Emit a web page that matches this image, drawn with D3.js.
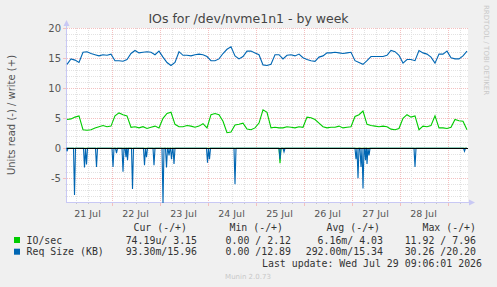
<!DOCTYPE html>
<html>
  <head>
    <meta charset="UTF-8" />
    <title>IOs for /dev/nvme1n1 - by week</title>
    <style>
      body { margin: 0; background: #f0f0f0; }
      text { font-family: "DejaVu Sans", sans-serif; }
      .mono { font-family: "DejaVu Sans Mono", monospace; white-space: pre; }
    </style>
  </head>
  <body>
    <script src="https://d3js.org/d3.v7.min.js"></script>
    <script>
      // write (+) series, one value every 2 hours starting Jul 21 01:45
      const writeReqSize = [
        14.0, 14.9, 14.7, 14.3, 16.0, 16.1, 15.8, 15.6, 15.4, 15.6, 15.5, 15.7,
        14.6, 14.6, 14.5, 14.8, 15.8, 16.3, 15.9, 16.0, 16.1, 16.0, 15.6, 16.2,
        15.2, 14.3, 13.8, 14.3, 16.1, 15.5, 15.5, 15.4, 15.6, 15.7, 15.6, 15.3,
        14.6, 14.6, 14.9, 15.8, 16.5, 16.9, 15.4, 14.9, 15.3, 16.2, 16.2, 15.9,
        15.6, 13.9, 13.8, 14.0, 15.6, 15.6, 14.9, 15.5, 15.6, 15.4, 15.7, 15.1,
        14.8, 14.6, 14.5, 15.2, 15.4, 15.9, 15.9, 16.0, 15.9, 15.8, 15.9, 16.0,
        14.6, 14.3, 14.0, 14.6, 15.3, 15.3, 15.3, 15.3, 15.5, 16.3, 16.1, 15.5,
        14.2, 14.8, 14.8, 14.6, 16.3, 15.9, 15.7, 15.2, 14.2, 15.7, 15.7, 16.2,
        15.1, 14.9, 14.9, 15.4, 16.2
      ];
      const writeIOs = [
        4.8, 4.9, 5.2, 5.4, 3.1, 3.0, 3.1, 3.4, 3.6, 3.8, 3.6, 3.7,
        5.4, 5.9, 5.6, 5.4, 3.5, 3.6, 3.4, 3.6, 3.3, 3.5, 3.7, 3.4,
        5.0, 5.8, 6.0, 4.0, 3.6, 3.6, 3.8, 3.7, 3.5, 3.7, 4.1, 3.4,
        5.6, 5.8, 5.6, 4.5, 2.6, 2.7, 3.9, 4.0, 4.2, 3.2, 3.1, 3.4,
        4.2, 6.4, 6.0, 3.4, 3.5, 3.4, 3.4, 3.6, 3.5, 3.4, 3.6, 3.5,
        5.2, 5.1, 4.8, 4.2, 3.6, 3.4, 3.5, 3.5, 3.7, 3.4, 3.5, 3.6,
        5.3, 5.6, 6.2, 4.0, 3.8, 3.7, 3.6, 3.7, 3.6, 3.2, 3.1, 3.3,
        5.0, 5.6, 5.2, 5.4, 3.1, 3.7, 3.6, 3.8, 5.4, 3.4, 3.4, 3.3,
        3.5, 4.8, 4.6, 4.5, 3.1
      ];

      // read (-) series: zero except for short spikes
      const readSizeTimes = [
        "2026-07-21 01:45", "2026-07-21 05:30", "2026-07-21 10:30", "2026-07-21 11:30",
        "2026-07-21 16:30", "2026-07-22 00:45", "2026-07-22 02:30", "2026-07-22 05:45",
        "2026-07-22 07:15", "2026-07-22 08:00", "2026-07-22 10:30", "2026-07-22 16:30",
        "2026-07-22 17:30", "2026-07-22 21:15", "2026-07-23 01:45", "2026-07-23 03:30",
        "2026-07-23 04:45", "2026-07-23 06:00", "2026-07-23 07:15", "2026-07-24 00:00",
        "2026-07-24 01:00", "2026-07-24 13:45", "2026-07-25 12:15", "2026-07-25 14:15",
        "2026-07-27 02:15", "2026-07-27 03:15", "2026-07-27 04:45", "2026-07-27 05:45",
        "2026-07-27 07:00", "2026-07-27 07:45", "2026-07-27 08:45", "2026-07-28 07:45",
        "2026-07-29 08:30"
      ];
      const readSizeValues = [
        -0.5, -7.8, -3.2, -2.7, -3.1, -3.1, -0.8, -3.9, -1.5, -2.0, -6.8, -2.8,
        -1.5, -2.8, -9.1, -3.2, -1.2, -1.8, -2.6, -2.4, -1.8, -6.0, -1.8, -0.6,
        -1.8, -5.0, -3.1, -6.7, -2.0, -2.6, -1.2, -3.1, -0.5
      ];
      const readIOTimes = ["2026-07-25 12:15"];
      const readIOValues = [-2.5];

      const yTicks = [20, 15, 10, 5, 0, -5];
      const dayLabels = ["21 Jul", "22 Jul", "23 Jul", "24 Jul", "25 Jul", "26 Jul", "27 Jul", "28 Jul"];

      const legendRows = [
        { name: "IO/sec", color: "#00cc00", cur: "74.19u/ 3.15", min: "0.00 / 2.12", avg: "6.16m/ 4.03", max: "11.92 / 7.96" },
        { name: "Req Size (KB)", color: "#0066b3", cur: "93.30m/15.96", min: "0.00 /12.89", avg: "292.00m/15.34", max: "30.26 /20.20" }
      ];

      const parse = d3.timeParse("%Y-%m-%d %H:%M");
      const start = parse("2026-07-21 01:45");
      const end = d3.timeHour.offset(start, 200);

      const W = 497, H = 287;
      const svg = d3.select("body").append("svg").attr("width", W).attr("height", H);
      svg.append("rect").attr("width", W).attr("height", H).attr("fill", "#f0f0f0");

      const x = d3.scaleTime().domain([start, end]).range([67, 467]);
      const y = d3.scaleLinear().domain([-8.95, 20]).range([202, 28.3]);
      const px = (v) => Math.round(v) + 0.5;

      svg.append("rect").attr("x", 67).attr("y", 28).attr("width", 401).attr("height", 174).attr("fill", "#fff");

      // grid
      const major = "#f4c0c0", minor = "#e2e2e2";
      const grid = svg.append("g");
      const minorY = d3.range(-8, 21);
      grid.selectAll(".hy").data(minorY).join("line")
        .attr("x1", 67).attr("x2", 468)
        .attr("y1", (d) => px(y(d))).attr("y2", (d) => px(y(d)))
        .attr("stroke", (d) => (d % 5 === 0 ? major : minor))
        .attr("stroke-dasharray", "1,1");
      const hours6 = d3.timeHour.every(6).range(start, end);
      grid.selectAll(".vx").data(hours6).join("line")
        .attr("x1", (d) => px(x(d))).attr("x2", (d) => px(x(d)))
        .attr("y1", 28).attr("y2", 202)
        .attr("stroke", (d) => (d.getHours() === 0 ? major : minor))
        .attr("stroke-dasharray", "1,1");
      // x ticks under the axis
      grid.selectAll(".tx").data(hours6).join("line")
        .attr("x1", (d) => px(x(d))).attr("x2", (d) => px(x(d)))
        .attr("y1", 202).attr("y2", (d) => (d.getHours() === 0 ? 206 : 204))
        .attr("stroke", (d) => (d.getHours() === 0 ? major : "#c8c8c8"));
      // y ticks left of the axis
      grid.selectAll(".ty").data(minorY).join("line")
        .attr("x1", (d) => (d % 5 === 0 ? 63 : 65)).attr("x2", 67)
        .attr("y1", (d) => px(y(d))).attr("y2", (d) => px(y(d)))
        .attr("stroke", (d) => (d % 5 === 0 ? major : minor));

      // axes lines with arrows
      const axisColor = "#c8c8f4";
      svg.append("line").attr("x1", 66.5).attr("x2", 66.5).attr("y1", 25).attr("y2", 203).attr("stroke", axisColor);
      svg.append("line").attr("x1", 66).attr("x2", 470).attr("y1", 202.5).attr("y2", 202.5).attr("stroke", axisColor);
      svg.append("path").attr("d", "M63.5,26 L69.5,26 L66.5,20 Z").attr("fill", axisColor);
      svg.append("path").attr("d", "M469,199.5 L469,205.5 L475,202.5 Z").attr("fill", axisColor);

      // y labels
      svg.append("g").selectAll("text").data(yTicks).join("text")
        .attr("x", 61).attr("y", (d) => y(d) + 3.5)
        .attr("text-anchor", "end").attr("font-size", 10).attr("fill", "#555")
        .text((d) => d);

      // x labels at noon
      const noons = dayLabels.map((d, i) => d3.timeHour.offset(parse("2026-07-21 12:00"), 24 * i));
      svg.append("g").selectAll("text").data(dayLabels).join("text")
        .attr("x", (d, i) => x(noons[i])).attr("y", 217)
        .attr("text-anchor", "middle").attr("font-size", 9.5).attr("fill", "#555")
        .text((d) => d);

      // series
      const series = svg.append("g").attr("fill", "none").attr("stroke-width", 1.1);
      const line = d3.line().x((d) => x(d[0])).y((d) => y(d[1]));
      const regular = (vals) => vals.map((v, i) => [d3.timeHour.offset(start, 2 * i), v]);
      const spikes = (times, vals) => {
        const pts = [[start, 0]];
        times.forEach((t, i) => {
          const dt = parse(t);
          pts.push([d3.timeMinute.offset(dt, -30), 0], [dt, vals[i]], [d3.timeMinute.offset(dt, 30), 0]);
        });
        pts.push([end, 0]);
        return pts.sort((a, b) => a[0] - b[0]);
      };

      series.append("path").attr("d", line(regular(writeIOs))).attr("stroke", "#00cc00");
      series.append("path").attr("d", line(spikes(readIOTimes, readIOValues))).attr("stroke", "#00cc00");
      series.append("path").attr("d", line(regular(writeReqSize))).attr("stroke", "#0066b3");
      series.append("path").attr("d", line(spikes(readSizeTimes, readSizeValues))).attr("stroke", "#0066b3");

      // zero line
      svg.append("line").attr("x1", 67).attr("x2", 468)
        .attr("y1", px(y(0))).attr("y2", px(y(0))).attr("stroke", "#000");

      // title and side labels
      svg.append("text").attr("x", 248.5).attr("y", 23).attr("text-anchor", "middle")
        .attr("font-size", 12.5).attr("fill", "#444").text("IOs for /dev/nvme1n1 - by week");
      svg.append("text").attr("transform", "translate(15,115) rotate(-90)")
        .attr("text-anchor", "middle").attr("font-size", 10).attr("fill", "#555")
        .text("Units read (-) / write (+)");
      svg.append("text").attr("transform", "translate(484,5) rotate(90)")
        .attr("font-size", 7).attr("fill", "#c8c8c8").text("RRDTOOL / TOBI OETIKER");

      // legend
      const lg = svg.append("g").attr("class", "mono").attr("font-size", 9.9).attr("fill", "#333");
      const cols = [
        { key: "cur", head: "Cur (-/+)", headEnd: 187, valEnd: 197 },
        { key: "min", head: "Min (-/+)", headEnd: 283, valEnd: 291 },
        { key: "avg", head: "Avg (-/+)", headEnd: 380, valEnd: 383 },
        { key: "max", head: "Max (-/+)", headEnd: 476, valEnd: 476 }
      ];
      cols.forEach((c) => {
        lg.append("text").attr("class", "mono").attr("x", c.headEnd).attr("y", 230.5)
          .attr("text-anchor", "end").text(c.head);
      });
      legendRows.forEach((r, i) => {
        const by = 243.5 + i * 11.7;
        lg.append("rect").attr("x", 14).attr("y", by - 6.5).attr("width", 6).attr("height", 6).attr("fill", r.color);
        lg.append("text").attr("class", "mono").attr("x", 26.5).attr("y", by).text(r.name);
        cols.forEach((c) => {
          lg.append("text").attr("class", "mono").attr("x", c.valEnd).attr("y", by)
            .attr("text-anchor", "end").text(r[c.key]);
        });
      });
      lg.append("text").attr("class", "mono").attr("x", 482).attr("y", 266.5)
        .attr("text-anchor", "end").text("Last update: Wed Jul 29 09:06:01 2026");
      svg.append("text").attr("x", 248).attr("y", 279).attr("text-anchor", "middle")
        .attr("font-size", 7).attr("fill", "#c8c8c8").text("Munin 2.0.73");
    </script>
  </body>
</html>
